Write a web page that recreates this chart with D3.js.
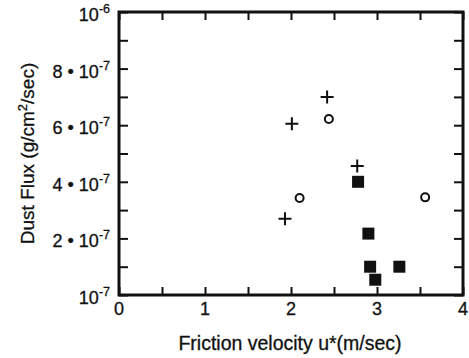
<!DOCTYPE html>
<html>
<head>
<meta charset="utf-8">
<script src="https://cdn.jsdelivr.net/npm/d3@7"></script>
<style>
  html, body { margin: 0; padding: 0; background: #fff; }
  svg { display: block; }
  text { font-family: "Liberation Sans", Arial, Helvetica, sans-serif; fill: #111; stroke: #111; stroke-width: 0.3px; }
</style>
</head>
<body>
<script>
// Friction velocity u* (m/sec) axis ticks and labels
const xTicks = [0, 0.5, 1, 1.5, 2, 2.5, 3, 3.5, 4];
const xLabelValues = [0, 1, 2, 3, 4];

// Dust flux axis (g/cm^2/sec): tick marks and labelled ticks (mantissa, exponent)
const yTicks = [1e-7, 1.5e-7, 2e-7, 3e-7, 4e-7, 5e-7, 6e-7, 7e-7, 8e-7, 9e-7, 1e-6];
const yLabelValues = [1e-7, 2e-7, 4e-7, 6e-7, 8e-7, 1e-6];
const yLabelMantissa = [null, 2, 4, 6, 8, null];
const yLabelExponent = ["-7", "-7", "-7", "-7", "-7", "-6"];

// Series 1: plus markers
const plusU = [1.93, 2.01, 2.42, 2.77];
const plusFlux = [2.69e-7, 6.05e-7, 7.0e-7, 4.56e-7];

// Series 2: open circles
const circleU = [2.10, 2.44, 3.56];
const circleFlux = [3.43e-7, 6.22e-7, 3.45e-7];

// Series 3: filled squares
const squareU = [2.78, 2.90, 2.92, 3.26, 2.98];
const squareFlux = [4.0e-7, 2.17e-7, 1.5e-7, 1.5e-7, 1.27e-7];

const W = 469, H = 358;
const mLeft = 119, mRight = 463, mTop = 12, mBottom = 295;

const svg = d3.select("body").append("svg")
  .attr("width", W).attr("height", H);

const x = d3.scaleLinear().domain([0, 4]).range([mLeft, mRight]);
// the flux axis is stretched below 2e-7 (1e-7 sits two tick steps under 2e-7)
const step = (mBottom - mTop) / 10;
const y = d3.scaleLinear()
  .domain([1e-7, 2e-7, 1e-6])
  .range([mBottom, mBottom - 2 * step, mTop]);

function styleAxis(g) {
  g.select(".domain").remove();
  g.selectAll(".tick line").attr("stroke", "#111").attr("stroke-width", 2);
}

// inward-pointing ticks on all four sides
svg.append("g").attr("transform", `translate(0,${mBottom})`)
  .call(d3.axisBottom(x).tickValues(xTicks).tickSizeInner(-8).tickSizeOuter(0).tickFormat(""))
  .call(styleAxis);
svg.append("g").attr("transform", `translate(0,${mTop})`)
  .call(d3.axisTop(x).tickValues(xTicks).tickSizeInner(-8).tickSizeOuter(0).tickFormat(""))
  .call(styleAxis);
svg.append("g").attr("transform", `translate(${mLeft},0)`)
  .call(d3.axisLeft(y).tickValues(yTicks).tickSizeInner(-9).tickSizeOuter(0).tickFormat(""))
  .call(styleAxis);
svg.append("g").attr("transform", `translate(${mRight},0)`)
  .call(d3.axisRight(y).tickValues(yTicks).tickSizeInner(-9).tickSizeOuter(0).tickFormat(""))
  .call(styleAxis);

// frame
svg.append("rect")
  .attr("x", mLeft).attr("y", mTop)
  .attr("width", mRight - mLeft).attr("height", mBottom - mTop)
  .attr("fill", "none").attr("stroke", "#111").attr("stroke-width", 3);

// x tick labels
svg.append("g").selectAll("text").data(xLabelValues).join("text")
  .attr("x", d => x(d)).attr("y", mBottom + 20)
  .attr("text-anchor", "middle")
  .attr("font-size", 18)
  .text(d => d);

// y tick labels: "m • 10^e"
const yl = svg.append("g").selectAll("text").data(yLabelValues).join("text")
  .attr("x", mLeft - 9).attr("y", d => y(d) + 9)
  .attr("text-anchor", "end")
  .attr("font-size", 18);
yl.append("tspan")
  .text((d, i) => yLabelMantissa[i] === null ? "10" : yLabelMantissa[i] + " \u2022 10");
yl.append("tspan")
  .attr("dy", -8).attr("font-size", 12.5)
  .text((d, i) => yLabelExponent[i]);

// axis titles
svg.append("text")
  .attr("x", (mLeft + mRight) / 2 - 1).attr("y", 350)
  .attr("text-anchor", "middle").attr("font-size", 19.5)
  .text("Friction velocity u*(m/sec)");

const yt = svg.append("text")
  .attr("transform", `translate(34,${(mTop + mBottom) / 2}) rotate(-90)`)
  .attr("text-anchor", "middle").attr("font-size", 19);
yt.append("tspan").text("Dust Flux (g/cm");
yt.append("tspan").attr("dy", -7).attr("font-size", 13).text("2");
yt.append("tspan").attr("dy", 7).text("/sec)");

// markers
const plusSize = 6.5;
svg.append("g").selectAll("path").data(plusU.map((u, i) => [u, plusFlux[i]])).join("path")
  .attr("d", d => {
    const cx = x(d[0]), cy = y(d[1]);
    return `M${cx - plusSize},${cy}H${cx + plusSize}M${cx},${cy - plusSize}V${cy + plusSize}`;
  })
  .attr("stroke", "#111").attr("stroke-width", 2).attr("fill", "none");

svg.append("g").selectAll("circle").data(circleU.map((u, i) => [u, circleFlux[i]])).join("circle")
  .attr("cx", d => x(d[0])).attr("cy", d => y(d[1])).attr("r", 4)
  .attr("fill", "none").attr("stroke", "#111").attr("stroke-width", 2);

const sq = 12;
svg.append("g").selectAll("rect").data(squareU.map((u, i) => [u, squareFlux[i]])).join("rect")
  .attr("x", d => x(d[0]) - sq / 2).attr("y", d => y(d[1]) - sq / 2)
  .attr("width", sq).attr("height", sq)
  .attr("fill", "#111");
</script>
</body>
</html>
